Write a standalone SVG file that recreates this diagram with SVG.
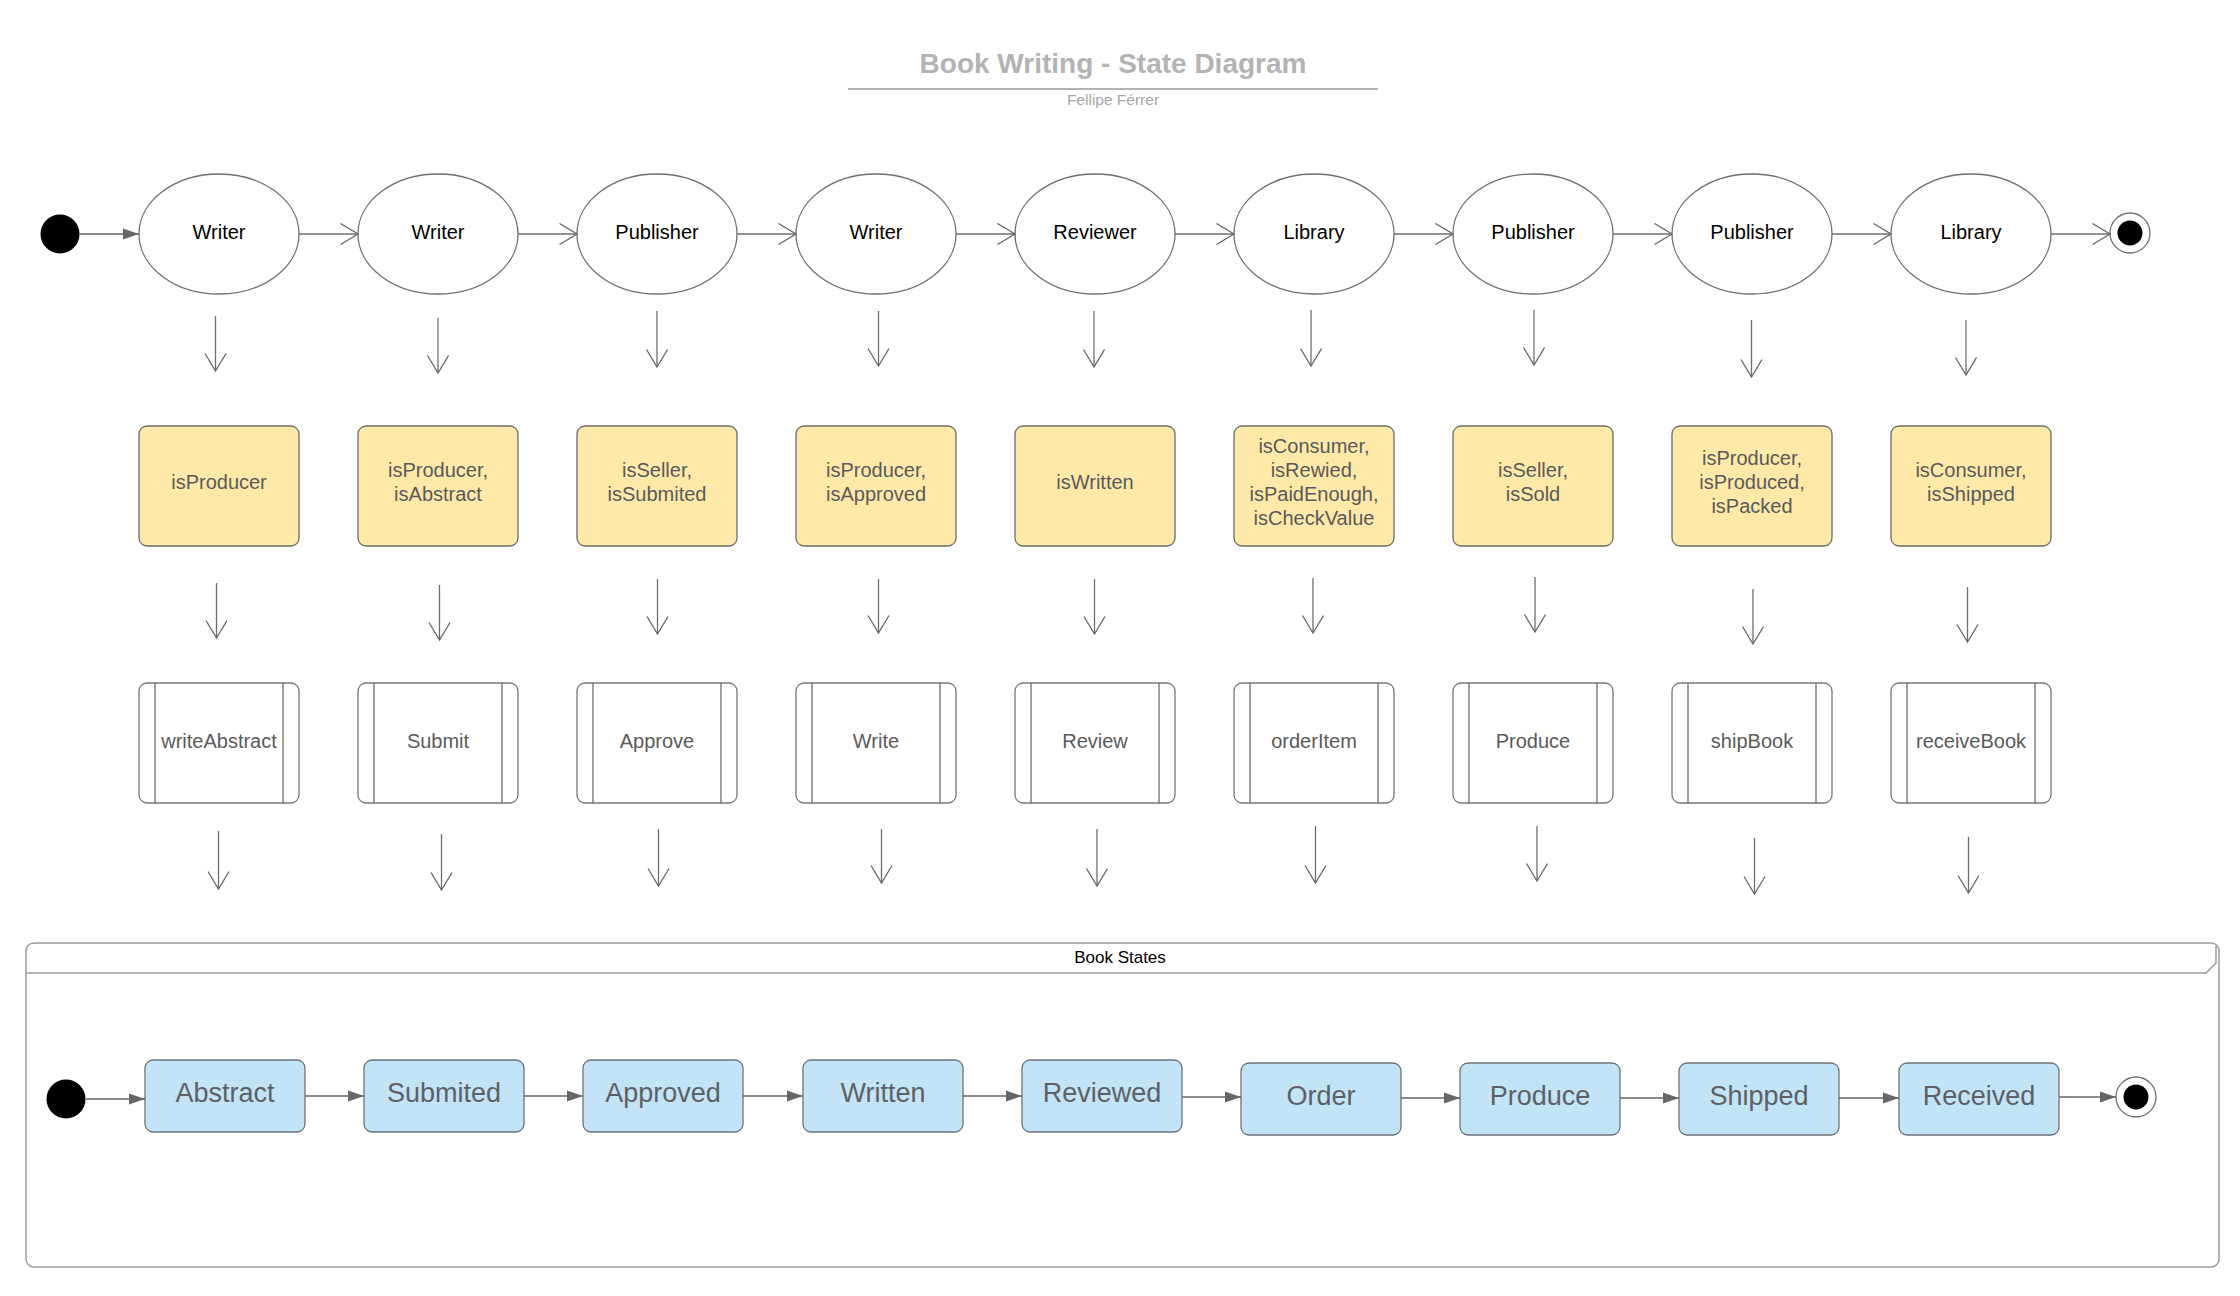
<svg xmlns="http://www.w3.org/2000/svg" width="2240" height="1296" viewBox="0 0 2240 1296">
<defs>
<marker id="open" markerUnits="userSpaceOnUse" markerWidth="22" markerHeight="24" refX="18" refY="11" orient="auto">
<path d="M0.5,0.5 L18,11 L0.5,21.5" fill="none" stroke="#666" stroke-width="1.3"/>
</marker>
<marker id="filled" markerUnits="userSpaceOnUse" markerWidth="18" markerHeight="13" refX="16" refY="6" orient="auto">
<path d="M0,0.5 L16,6 L0,11.5 Z" fill="#666"/>
</marker>
</defs>
<style>
text{font-family:"Liberation Sans",Arial,sans-serif}
.ell{fill:#fff;stroke:#6e6e6e;stroke-width:1.3}
.et{font-size:20px;fill:#000;text-anchor:middle}
.yel{fill:#ffe9a8;stroke:#6b6b6b;stroke-width:1.3}
.act{fill:#fff;stroke:#777;stroke-width:1.3}
.ln{stroke:#6e6e6e;stroke-width:1.3;fill:none}
.bt{font-size:20px;fill:#5a5a5a;text-anchor:middle}
.blue{fill:#c2e4f6;stroke:#6b7378;stroke-width:1.3}
.st{font-size:27px;fill:#5c6166;text-anchor:middle}
.oa{stroke:#6e6e6e;stroke-width:1.3;fill:none;marker-end:url(#open)}
.fa{stroke:#666;stroke-width:1.5;fill:none;marker-end:url(#filled)}
</style>
<rect width="2240" height="1296" fill="#fff"/>

<g id="title">
<text x="1113" y="73" font-size="28" font-weight="bold" fill="#b3b3b3" text-anchor="middle">Book Writing - State Diagram</text>
<line x1="848" y1="89" x2="1378" y2="89" stroke="#b3b3b3" stroke-width="2"/>
<text x="1113" y="105" font-size="15.5" fill="#a6a6a6" text-anchor="middle">Fellipe Férrer</text>
</g>

<g id="start-top"><circle cx="60" cy="234" r="19.5" fill="#000"/></g>
<g id="end-top"><circle cx="2130" cy="233" r="20" fill="#fff" stroke="#6e6e6e" stroke-width="1.3"/><circle cx="2130" cy="233" r="12.5" fill="#000"/></g>

<g id="actor1"><ellipse class="ell" cx="219" cy="234" rx="80" ry="60"/><text class="et" x="219" y="239">Writer</text></g>
<g id="actor2"><ellipse class="ell" cx="438" cy="234" rx="80" ry="60"/><text class="et" x="438" y="239">Writer</text></g>
<g id="actor3"><ellipse class="ell" cx="657" cy="234" rx="80" ry="60"/><text class="et" x="657" y="239">Publisher</text></g>
<g id="actor4"><ellipse class="ell" cx="876" cy="234" rx="80" ry="60"/><text class="et" x="876" y="239">Writer</text></g>
<g id="actor5"><ellipse class="ell" cx="1095" cy="234" rx="80" ry="60"/><text class="et" x="1095" y="239">Reviewer</text></g>
<g id="actor6"><ellipse class="ell" cx="1314" cy="234" rx="80" ry="60"/><text class="et" x="1314" y="239">Library</text></g>
<g id="actor7"><ellipse class="ell" cx="1533" cy="234" rx="80" ry="60"/><text class="et" x="1533" y="239">Publisher</text></g>
<g id="actor8"><ellipse class="ell" cx="1752" cy="234" rx="80" ry="60"/><text class="et" x="1752" y="239">Publisher</text></g>
<g id="actor9"><ellipse class="ell" cx="1971" cy="234" rx="80" ry="60"/><text class="et" x="1971" y="239">Library</text></g>

<g id="guard1"><rect class="yel" x="139" y="426" width="160" height="120" rx="8"/><text class="bt" x="219" y="489">isProducer</text></g>
<g id="guard2"><rect class="yel" x="358" y="426" width="160" height="120" rx="8"/><text class="bt" x="438" y="477">isProducer,</text><text class="bt" x="438" y="501">isAbstract</text></g>
<g id="guard3"><rect class="yel" x="577" y="426" width="160" height="120" rx="8"/><text class="bt" x="657" y="477">isSeller,</text><text class="bt" x="657" y="501">isSubmited</text></g>
<g id="guard4"><rect class="yel" x="796" y="426" width="160" height="120" rx="8"/><text class="bt" x="876" y="477">isProducer,</text><text class="bt" x="876" y="501">isApproved</text></g>
<g id="guard5"><rect class="yel" x="1015" y="426" width="160" height="120" rx="8"/><text class="bt" x="1095" y="489">isWritten</text></g>
<g id="guard6"><rect class="yel" x="1234" y="426" width="160" height="120" rx="8"/><text class="bt" x="1314" y="453">isConsumer,</text><text class="bt" x="1314" y="477">isRewied,</text><text class="bt" x="1314" y="501">isPaidEnough,</text><text class="bt" x="1314" y="525">isCheckValue</text></g>
<g id="guard7"><rect class="yel" x="1453" y="426" width="160" height="120" rx="8"/><text class="bt" x="1533" y="477">isSeller,</text><text class="bt" x="1533" y="501">isSold</text></g>
<g id="guard8"><rect class="yel" x="1672" y="426" width="160" height="120" rx="8"/><text class="bt" x="1752" y="465">isProducer,</text><text class="bt" x="1752" y="489">isProduced,</text><text class="bt" x="1752" y="513">isPacked</text></g>
<g id="guard9"><rect class="yel" x="1891" y="426" width="160" height="120" rx="8"/><text class="bt" x="1971" y="477">isConsumer,</text><text class="bt" x="1971" y="501">isShipped</text></g>

<g id="action1"><rect class="act" x="139" y="683" width="160" height="120" rx="8"/><path class="ln" d="M155,683V803M283,683V803"/><text class="bt" x="219" y="748">writeAbstract</text></g>
<g id="action2"><rect class="act" x="358" y="683" width="160" height="120" rx="8"/><path class="ln" d="M374,683V803M502,683V803"/><text class="bt" x="438" y="748">Submit</text></g>
<g id="action3"><rect class="act" x="577" y="683" width="160" height="120" rx="8"/><path class="ln" d="M593,683V803M721,683V803"/><text class="bt" x="657" y="748">Approve</text></g>
<g id="action4"><rect class="act" x="796" y="683" width="160" height="120" rx="8"/><path class="ln" d="M812,683V803M940,683V803"/><text class="bt" x="876" y="748">Write</text></g>
<g id="action5"><rect class="act" x="1015" y="683" width="160" height="120" rx="8"/><path class="ln" d="M1031,683V803M1159,683V803"/><text class="bt" x="1095" y="748">Review</text></g>
<g id="action6"><rect class="act" x="1234" y="683" width="160" height="120" rx="8"/><path class="ln" d="M1250,683V803M1378,683V803"/><text class="bt" x="1314" y="748">orderItem</text></g>
<g id="action7"><rect class="act" x="1453" y="683" width="160" height="120" rx="8"/><path class="ln" d="M1469,683V803M1597,683V803"/><text class="bt" x="1533" y="748">Produce</text></g>
<g id="action8"><rect class="act" x="1672" y="683" width="160" height="120" rx="8"/><path class="ln" d="M1688,683V803M1816,683V803"/><text class="bt" x="1752" y="748">shipBook</text></g>
<g id="action9"><rect class="act" x="1891" y="683" width="160" height="120" rx="8"/><path class="ln" d="M1907,683V803M2035,683V803"/><text class="bt" x="1971" y="748">receiveBook</text></g>

<g id="book-states">
<rect x="26" y="943" width="2193" height="324" rx="8" fill="none" stroke="#9a9a9a" stroke-width="1.5"/>
<path d="M26,973 H2206 L2216,963 V946" fill="none" stroke="#9a9a9a" stroke-width="1.5"/>
<text x="1120" y="963" font-size="17" fill="#000" text-anchor="middle">Book States</text>
</g>

<g id="start-bottom"><circle cx="66" cy="1099" r="19.5" fill="#000"/></g>
<g id="state1"><rect class="blue" x="145" y="1060" width="160" height="72" rx="8"/><text class="st" x="225" y="1102">Abstract</text></g>
<g id="state2"><rect class="blue" x="364" y="1060" width="160" height="72" rx="8"/><text class="st" x="444" y="1102">Submited</text></g>
<g id="state3"><rect class="blue" x="583" y="1060" width="160" height="72" rx="8"/><text class="st" x="663" y="1102">Approved</text></g>
<g id="state4"><rect class="blue" x="803" y="1060" width="160" height="72" rx="8"/><text class="st" x="883" y="1102">Written</text></g>
<g id="state5"><rect class="blue" x="1022" y="1060" width="160" height="72" rx="8"/><text class="st" x="1102" y="1102">Reviewed</text></g>
<g id="state6"><rect class="blue" x="1241" y="1063" width="160" height="72" rx="8"/><text class="st" x="1321" y="1105">Order</text></g>
<g id="state7"><rect class="blue" x="1460" y="1063" width="160" height="72" rx="8"/><text class="st" x="1540" y="1105">Produce</text></g>
<g id="state8"><rect class="blue" x="1679" y="1063" width="160" height="72" rx="8"/><text class="st" x="1759" y="1105">Shipped</text></g>
<g id="state9"><rect class="blue" x="1899" y="1063" width="160" height="72" rx="8"/><text class="st" x="1979" y="1105">Received</text></g>
<g id="end-bottom"><circle cx="2136" cy="1097" r="20" fill="#fff" stroke="#6e6e6e" stroke-width="1.3"/><circle cx="2136" cy="1097" r="12.5" fill="#000"/></g>

<g id="connectors">
<line class="fa" x1="79" y1="234" x2="139" y2="234"/>
<line class="oa" x1="299" y1="234" x2="358" y2="234"/>
<line class="oa" x1="518" y1="234" x2="577" y2="234"/>
<line class="oa" x1="737" y1="234" x2="796" y2="234"/>
<line class="oa" x1="956" y1="234" x2="1015" y2="234"/>
<line class="oa" x1="1175" y1="234" x2="1234" y2="234"/>
<line class="oa" x1="1394" y1="234" x2="1453" y2="234"/>
<line class="oa" x1="1613" y1="234" x2="1672" y2="234"/>
<line class="oa" x1="1832" y1="234" x2="1891" y2="234"/>
<line class="oa" x1="2051" y1="234" x2="2110" y2="234"/>

<line class="oa" x1="215.5" y1="316" x2="215.5" y2="371"/>
<line class="oa" x1="438" y1="318" x2="438" y2="373"/>
<line class="oa" x1="657" y1="311" x2="657" y2="367"/>
<line class="oa" x1="878.5" y1="311" x2="878.5" y2="366"/>
<line class="oa" x1="1094" y1="311" x2="1094" y2="367"/>
<line class="oa" x1="1311" y1="310" x2="1311" y2="366"/>
<line class="oa" x1="1534" y1="310" x2="1534" y2="365"/>
<line class="oa" x1="1751.5" y1="320" x2="1751.5" y2="377"/>
<line class="oa" x1="1966" y1="320" x2="1966" y2="375"/>

<line class="oa" x1="216.5" y1="583" x2="216.5" y2="638"/>
<line class="oa" x1="439.5" y1="585" x2="439.5" y2="640"/>
<line class="oa" x1="657.5" y1="579" x2="657.5" y2="634"/>
<line class="oa" x1="878.5" y1="579" x2="878.5" y2="633"/>
<line class="oa" x1="1094.5" y1="579" x2="1094.5" y2="634"/>
<line class="oa" x1="1313" y1="578" x2="1313" y2="633"/>
<line class="oa" x1="1535" y1="577" x2="1535" y2="632"/>
<line class="oa" x1="1753" y1="589" x2="1753" y2="644"/>
<line class="oa" x1="1967.5" y1="587" x2="1967.5" y2="642"/>

<line class="oa" x1="218.5" y1="831" x2="218.5" y2="889"/>
<line class="oa" x1="441.5" y1="834" x2="441.5" y2="890"/>
<line class="oa" x1="658.5" y1="829" x2="658.5" y2="886"/>
<line class="oa" x1="881.5" y1="829" x2="881.5" y2="883"/>
<line class="oa" x1="1097" y1="829" x2="1097" y2="886"/>
<line class="oa" x1="1315.5" y1="826" x2="1315.5" y2="883"/>
<line class="oa" x1="1537" y1="826" x2="1537" y2="881"/>
<line class="oa" x1="1754.5" y1="838" x2="1754.5" y2="894"/>
<line class="oa" x1="1968.5" y1="837" x2="1968.5" y2="893"/>

<line class="fa" x1="86" y1="1099" x2="145" y2="1099"/>
<line class="fa" x1="305" y1="1096" x2="364" y2="1096"/>
<line class="fa" x1="524" y1="1096" x2="583" y2="1096"/>
<line class="fa" x1="743" y1="1096" x2="803" y2="1096"/>
<line class="fa" x1="963" y1="1096" x2="1022" y2="1096"/>
<line class="fa" x1="1182" y1="1097" x2="1241" y2="1097"/>
<line class="fa" x1="1401" y1="1098" x2="1460" y2="1098"/>
<line class="fa" x1="1620" y1="1098" x2="1679" y2="1098"/>
<line class="fa" x1="1839" y1="1098" x2="1899" y2="1098"/>
<line class="fa" x1="2059" y1="1097" x2="2116" y2="1097"/>
</g>
</svg>
